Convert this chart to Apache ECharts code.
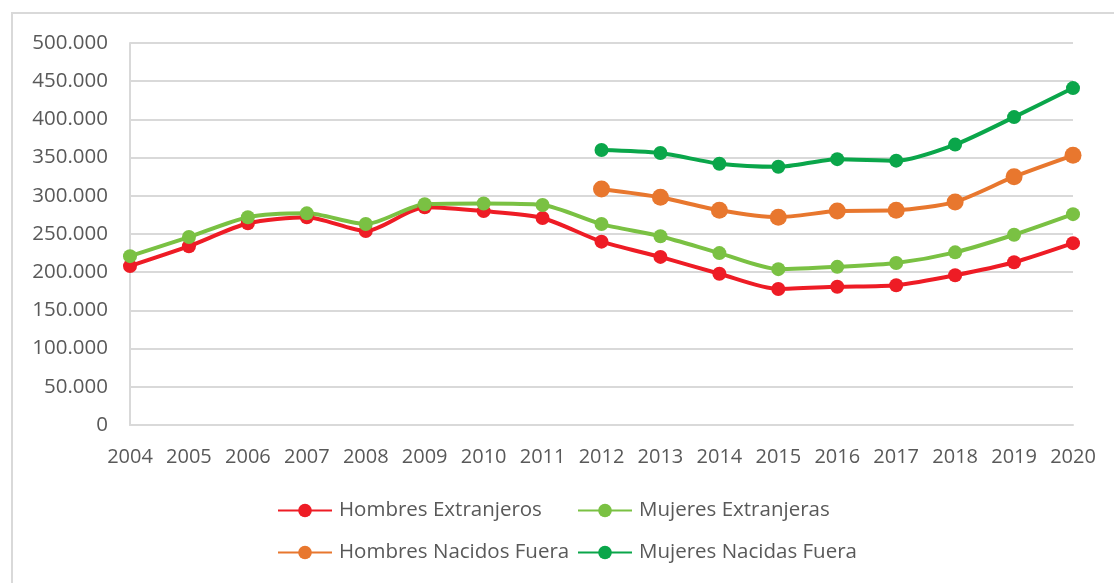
<!DOCTYPE html>
<html>
<head>
<meta charset="utf-8">
<script src="https://cdn.jsdelivr.net/npm/echarts@6/dist/echarts.min.js"></script>
<style>
    html, body { margin: 0; padding: 0; background: #fff; }
    #frame { position: absolute; left: 11px; top: 12px; width: 1120px; height: 600px; border: 2px solid #d9d9d9; box-sizing: border-box; }
    #chart { position: absolute; left: 0; top: 0; width: 1114px; height: 583px; }
</style>
</head>
<body>
<div id="frame"></div>
<div id="chart"></div>
<script>
const years = ['2004', '2005', '2006', '2007', '2008', '2009', '2010', '2011', '2012',
    '2013', '2014', '2015', '2016', '2017', '2018', '2019', '2020'];

const hombresExtranjeros = [208000, 234000, 264000, 272000, 254000, 285000, 280000, 271000, 240000,
    220000, 198000, 178000, 181000, 183000, 196000, 213000, 238000];
const mujeresExtranjeras = [221000, 246000, 272000, 277000, 263000, 289000, 290000, 288000, 263000,
    247000, 225000, 204000, 207000, 212000, 226000, 249000, 276000];
// series below start in 2012
const hombresNacidosFuera = [null, null, null, null, null, null, null, null, 309000,
    298000, 281000, 272000, 280000, 281000, 292000, 325000, 353000];
const mujeresNacidasFuera = [null, null, null, null, null, null, null, null, 360000,
    356000, 342000, 338000, 348000, 346000, 367000, 403000, 441000];

const textColor = '#595959';
const fontFamily = '"Open Sans", sans-serif';

function fmt(v) {
    return String(v).replace(/\B(?=(\d{3})+(?!\d))/g, '.');
}

function lineSeries(name, data, color, size) {
    return {
        name: name,
        type: 'line',
        data: data,
        smooth: 0.25,
        symbol: 'circle',
        symbolSize: size,
        showAllSymbol: true,
        connectNulls: false,
        lineStyle: { color: color, width: 4 },
        itemStyle: { color: color },
        emphasis: { disabled: true }
    };
}

function legendAt(name, left, top) {
    return {
        data: [name],
        left: left,
        top: top,
        itemWidth: 54,
        itemHeight: 17,
        itemGap: 8,
        textStyle: { color: textColor, fontSize: 20.5, fontFamily: fontFamily, padding: [0, 0, 0, 2] },
        selectedMode: false
    };
}

const chart = echarts.init(document.getElementById('chart'), null, { renderer: 'canvas' });

chart.setOption({
    animation: false,
    backgroundColor: 'transparent',
    grid: { left: 130, right: 41, top: 43, bottom: 158 },
    legend: [
        legendAt('Hombres Extranjeros', 272, 495),
        legendAt('Mujeres Extranjeras', 572, 495),
        legendAt('Hombres Nacidos Fuera', 272, 537),
        legendAt('Mujeres Nacidas Fuera', 572, 537)
    ],
    xAxis: {
        type: 'category',
        data: years,
        boundaryGap: false,
        axisLine: { show: true, lineStyle: { color: '#d9d9d9', width: 2 } },
        axisTick: { show: false },
        axisLabel: { color: textColor, fontSize: 20, fontFamily: fontFamily, margin: 22, interval: 0 }
    },
    yAxis: {
        type: 'value',
        min: 0,
        max: 500000,
        interval: 50000,
        axisLine: { show: true, lineStyle: { color: '#d9d9d9', width: 2 } },
        axisTick: { show: false },
        axisLabel: { color: textColor, fontSize: 20.5, fontFamily: fontFamily, margin: 22, formatter: fmt },
        splitLine: { lineStyle: { color: '#d9d9d9', width: 2 } }
    },
    series: [
        lineSeries('Hombres Extranjeros', hombresExtranjeros, '#ee1c25', 14),
        lineSeries('Mujeres Extranjeras', mujeresExtranjeras, '#7ac143', 14),
        lineSeries('Hombres Nacidos Fuera', hombresNacidosFuera, '#e8772e', 17),
        lineSeries('Mujeres Nacidas Fuera', mujeresNacidasFuera, '#0aa64a', 14)
    ]
});
</script>
</body>
</html>
